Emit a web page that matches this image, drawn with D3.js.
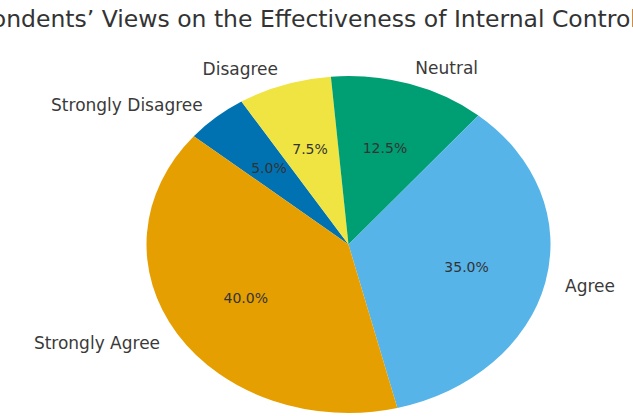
<!DOCTYPE html>
<html>
<head>
<meta charset="utf-8">
<script src="https://cdn.jsdelivr.net/npm/d3@7/dist/d3.min.js"></script>
<style>
  body { margin: 0; background: #fff; }
  svg { display: block; font-family: "DejaVu Sans", sans-serif; }
</style>
</head>
<body>
<div id="chart"></div>
<script>
// Survey answers and share of respondents (%)
const categories = ["Strongly Disagree", "Disagree", "Neutral", "Agree", "Strongly Agree"];
const shares = [5, 7.5, 12.5, 35, 40];
const sliceColors = ["#0072B2", "#F0E442", "#009E73", "#56B4E9", "#E69F00"];
const titleText = "Respondents\u2019 Views on the Effectiveness of Internal Controls";

const width = 633, height = 416;
const cx = 348.5, cy = 244.5;
const rx = 202, ry = 168.5;

const svg = d3.select("#chart")
    .append("svg")
    .attr("width", width)
    .attr("height", height);

// title, centred on the original figure (cropped on both sides)
svg.append("text")
    .attr("x", 292)
    .attr("y", 19)
    .attr("text-anchor", "middle")
    .attr("dominant-baseline", "central")
    .attr("font-size", 23.5)
    .attr("fill", "#333")
    .text(titleText);

const data = categories.map((c, i) => ({ label: c, value: shares[i], color: sliceColors[i] }));

// start at 140deg (math) and go clockwise
const pie = d3.pie()
    .sort(null)
    .value(d => d.value)
    .startAngle(-50 * Math.PI / 180)
    .endAngle(-50 * Math.PI / 180 + 2 * Math.PI);

const arcs = pie(data);
const arc = d3.arc().innerRadius(0).outerRadius(rx);

// pie is drawn as a circle and squashed into an ellipse
const g = svg.append("g")
    .attr("transform", `translate(${cx},${cy}) scale(1,${ry / rx})`);

g.selectAll(".slice")
    .data(arcs)
    .join("path")
    .attr("class", "slice")
    .attr("d", arc)
    .attr("fill", d => d.data.color);

function pos(d, k) {
    const a = (d.startAngle + d.endAngle) / 2;
    return [cx + k * rx * Math.sin(a), cy - k * ry * Math.cos(a)];
}

// category labels outside
svg.selectAll(".label")
    .data(arcs)
    .join("text")
    .attr("class", "label")
    .attr("x", d => pos(d, 1.1)[0])
    .attr("y", d => pos(d, 1.1)[1])
    .attr("text-anchor", d => pos(d, 1.1)[0] > cx ? "start" : "end")
    .attr("dominant-baseline", "central")
    .attr("font-size", 17)
    .attr("fill", "#3a3a3a")
    .text(d => d.data.label);

// percentages inside
svg.selectAll(".pct")
    .data(arcs)
    .join("text")
    .attr("class", "pct")
    .attr("x", d => pos(d, 0.6)[0])
    .attr("y", d => pos(d, 0.6)[1])
    .attr("text-anchor", "middle")
    .attr("dominant-baseline", "central")
    .attr("font-size", 14)
    .attr("fill", "#333")
    .text(d => d3.format(".1f")(d.data.value) + "%");
</script>
</body>
</html>
